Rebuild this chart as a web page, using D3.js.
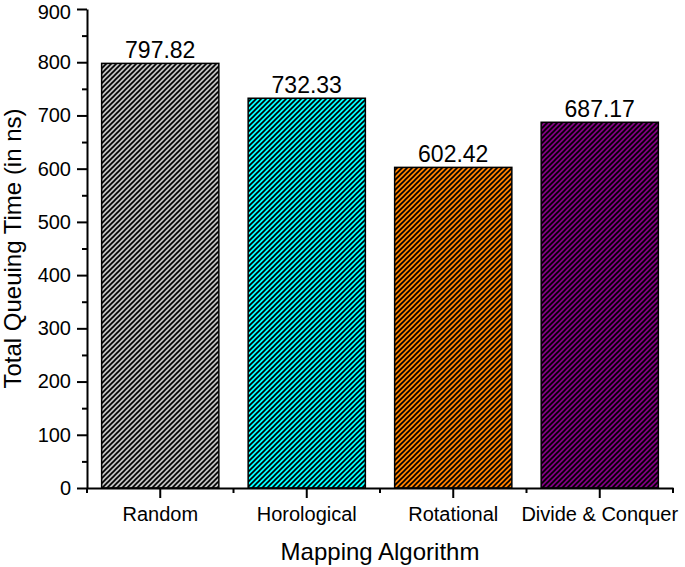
<!DOCTYPE html>
<html>
<head>
<meta charset="utf-8">
<script src="https://cdn.jsdelivr.net/npm/d3@7"></script>
<style>
  html, body { margin: 0; padding: 0; background: #fff; }
  svg { display: block; font-family: "Liberation Sans", Arial, sans-serif; }
</style>
</head>
<body>
<script>
// ---- data ----
const categories = ["Random", "Horological", "Rotational", "Divide & Conquer"];
const values = [797.82, 732.33, 602.42, 687.17];
const barColors = ["#c0c0c0", "#00ffff", "#ff8000", "#800080"];
const yMajorTicks = [0, 100, 200, 300, 400, 500, 600, 700, 800, 900];
const yMinorTicks = [50, 150, 250, 350, 450, 550, 650, 750, 850];
const xTitle = "Mapping Algorithm";
const yTitle = "Total Queuing Time (in ns)";

const W = 685, H = 567;
const mLeft = 87, mRight = 673, mTop = 9, mBottom = 488;

const svg = d3.select("body").append("svg").attr("width", W).attr("height", H);

const x = d3.scaleBand().domain(categories).range([mLeft, mRight])
  .paddingInner(0.2).paddingOuter(0.1);
const y = d3.scaleLinear().domain([0, 900]).range([mBottom, mTop]);

// hatch patterns
const defs = svg.append("defs");
barColors.forEach((c, i) => {
  const p = defs.append("pattern")
    .attr("id", "hatch" + i)
    .attr("patternUnits", "userSpaceOnUse")
    .attr("width", 5).attr("height", 5);
  p.append("rect").attr("width", 5).attr("height", 5).attr("fill", c);
  p.append("path")
    .attr("d", "M-1,6 L6,-1 M-1,1 L1,-1 M4,6 L6,4")
    .attr("stroke", "#000").attr("stroke-width", 1.6);
});

// bars
svg.selectAll("rect.bar").data(categories).enter().append("rect")
  .attr("class", "bar")
  .attr("x", d => x(d))
  .attr("width", x.bandwidth())
  .attr("y", (d, i) => y(values[i]))
  .attr("height", (d, i) => y(0) - y(values[i]))
  .attr("fill", (d, i) => "url(#hatch" + i + ")")
  .attr("stroke", "#000").attr("stroke-width", 1.5);

// value labels
svg.selectAll("text.val").data(categories).enter().append("text")
  .attr("class", "val")
  .attr("x", d => x(d) + x.bandwidth() / 2)
  .attr("y", (d, i) => y(values[i]) - 5)
  .attr("text-anchor", "middle")
  .attr("font-size", 23)
  .text((d, i) => values[i].toFixed(2));

// y axis
const yAxis = svg.append("g").attr("transform", `translate(${mLeft},0)`)
  .call(d3.axisLeft(y).tickValues(yMajorTicks).tickSize(10).tickSizeOuter(0).tickPadding(6));
yAxis.select(".domain").attr("stroke-width", 2);
yAxis.selectAll(".tick line").attr("stroke-width", 2);
yAxis.selectAll(".tick text").attr("font-size", 20).attr("fill", "#000")
  .attr("font-family", "Liberation Sans, Arial, sans-serif")
  .attr("dy", d => d === 900 ? "0.45em" : "0.32em");
const yMinor = svg.append("g").attr("transform", `translate(${mLeft},0)`)
  .call(d3.axisLeft(y).tickValues(yMinorTicks).tickSize(5).tickSizeOuter(0).tickFormat(""));
yMinor.select(".domain").remove();
yMinor.selectAll(".tick line").attr("stroke-width", 2);

// x axis
const xAxis = svg.append("g").attr("transform", `translate(0,${mBottom})`)
  .call(d3.axisBottom(x).tickSize(10).tickSizeOuter(0).tickPadding(9));
xAxis.select(".domain").attr("stroke-width", 2);
xAxis.selectAll(".tick line").attr("stroke-width", 2);
xAxis.selectAll(".tick text").attr("font-size", 20).attr("fill", "#000")
  .attr("font-family", "Liberation Sans, Arial, sans-serif");
// minor ticks at category boundaries
const step = x.step();
const boundaries = [x(categories[0]) + x.bandwidth() / 2 - step / 2]
  .concat(categories.map(c => x(c) + x.bandwidth() / 2 + step / 2));
svg.append("g").selectAll("line").data(boundaries).enter().append("line")
  .attr("x1", d => d).attr("x2", d => d)
  .attr("y1", mBottom).attr("y2", mBottom + 5)
  .attr("stroke", "#000").attr("stroke-width", 2);

// titles
svg.append("text")
  .attr("x", (mLeft + mRight) / 2).attr("y", 560)
  .attr("text-anchor", "middle").attr("font-size", 24)
  .text(xTitle);
svg.append("text")
  .attr("transform", `translate(21,${(mTop + mBottom) / 2}) rotate(-90)`)
  .attr("text-anchor", "middle").attr("font-size", 24)
  .text(yTitle);
</script>
</body>
</html>
